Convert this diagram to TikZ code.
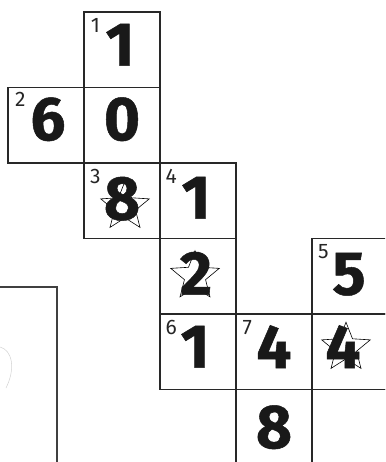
\documentclass[tikz,border=0pt]{standalone}
\usepackage{fontspec}
\setmainfont{Fira Sans}
\newfontfamily\digitfont[FakeBold=0.8]{Fira Sans}
\usepackage{xcolor}
\usetikzlibrary{shapes.geometric,positioning,calc}
\definecolor{gridink}{RGB}{40, 40, 40}

\tikzset{
    cellbox/.style={draw=gridink, line width=1.4pt, minimum width=76pt, minimum height=75.5pt, inner sep=0pt},
    digit/.style={font=\digitfont\fontsize{62}{62}\selectfont\bfseries, text=black!90, inner sep=0pt},
    clue/.style={font=\fontsize{21}{21}\selectfont, text=black!85, inner sep=0pt},
    starmark/.style={draw=black, line width=0.6pt, star, star points=5, star point ratio=2.3, minimum size=51pt, inner sep=0pt}
}

\begin{document}
\begin{tikzpicture}[x=1pt, y=-1pt]
        \useasboundingbox (0, 0) rectangle (385, 462);
        \clip (0, 0) rectangle (385, 462);

        % Left frame (partly cut off)
        \draw[line width=2pt, color=black!75] (0, 287) -- (57, 287) -- (57, 470);
        \draw[line width=0.5pt, color=gray!35] (0, 347) .. controls (12, 350) and (16, 368) .. (6, 388);

        % Cells of the puzzle
        \node[cellbox] (c1) at (122, 49.75) {};
        \node[cellbox] (c2) at (46, 125.25) {};
        \node[cellbox] (c0) at (122, 125.25) {};
        \node[cellbox] (c3) at (122, 200.75) {};
        \node[cellbox] (c4) at (198, 200.75) {};
        \node[cellbox] (c2s) at (198, 276.25) {};
        \node[cellbox] (c5) at (350, 276.25) {};
        \node[cellbox] (c6) at (198, 351.75) {};
        \node[cellbox] (c7) at (274, 351.75) {};
        \node[cellbox] (c4s) at (350, 351.75) {};
        \node[cellbox] (c8) at (274, 427.25) {};
        \node[cellbox] (ce) at (350, 427.25) {};

        % Stars behind some digits
        \node[starmark] (s3) at ([xshift=3pt, yshift=-6pt]c3.center) {};
        \node[starmark] (s2) at ([xshift=-3pt, yshift=0pt]c2s.center) {};
        \node[starmark] (s4) at ([xshift=-4pt, yshift=4pt]c4s.center) {};

        % Digits
        \node[digit] (d1) at ([xshift=-2pt, yshift=5pt]c1.center) {1};
        \node[digit] (d2) at ([xshift=2pt, yshift=6pt]c2.center) {6};
        \node[digit] (d0) at ([yshift=6pt]c0.center) {0};
        \node[digit] (d3) at ([yshift=2pt]c3.center) {8};
        \node[digit] (d4) at ([xshift=-2pt, yshift=3pt]c4.center) {1};
        \node[digit] (d2s) at ([xshift=-2pt, yshift=3pt]c2s.center) {2};
        \node[digit] (d5) at ([xshift=-1pt, yshift=2pt]c5.center) {5};
        \node[digit] (d6) at ([xshift=-3pt, yshift=5pt]c6.center) {1};
        \node[digit] (d7) at ([yshift=5pt]c7.center) {4};
        \node[digit] (d4s) at ([xshift=-7pt, yshift=5pt]c4s.center) {4};
        \node[digit] (d8) at ([yshift=0pt]c8.center) {8};

        % Clue numbers
        \node[clue] (n1) at ([xshift=12pt, yshift=-14pt]c1.north west) {1};
        \node[clue] (n2) at ([xshift=13pt, yshift=-13pt]c2.north west) {2};
        \node[clue] (n3) at ([xshift=12pt, yshift=-14pt]c3.north west) {3};
        \node[clue] (n4) at ([xshift=12pt, yshift=-14pt]c4.north west) {4};
        \node[clue] (n5) at ([xshift=12pt, yshift=-14pt]c5.north west) {5};
        \node[clue] (n6) at ([xshift=12pt, yshift=-14pt]c6.north west) {6};
        \node[clue] (n7) at ([xshift=12pt, yshift=-14pt]c7.north west) {7};
    \end{tikzpicture}
\end{document}
